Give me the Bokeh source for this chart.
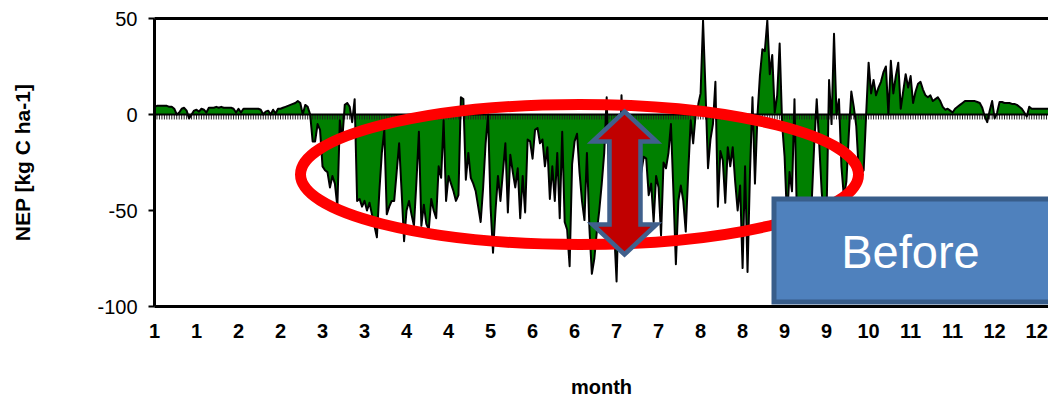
from bokeh.plotting import figure
from bokeh.models import Range1d, FixedTicker, LinearAxis, Label
from bokeh.embed import file_html
from bokeh.resources import INLINE

# ---------------- data (daily NEP, kg C ha-1) ----------------
nep = [
    4, 4.5, 4.5, 4.5, 4.5, 4.5, 4, 4, 3, 0,
    1, 3, 3.5, 2, -2, 0, 2, 2.5, 1.5, 3,
    2.5, 1, 3.5, 3.5, 3.5, 4, 3.5, 4, 3.5, 3.5,
    3.5, 3.5, 3, 1, 3, 1, 3, 3, 3, 3,
    3, 3, 3, 2.5, 0, 1.5, 2, 0, 2.5, 0.5,
    3, 3, 3.5, 4, 4.5, 5, 5.5, 6, 7, 6,
    0, 5, 4, 0, -14, -14, -5, -8, -27, -29,
    -30, -38, -32, -36, -48, -3, -13, 5, 6, 4,
    -4, 8, -45, -44, -48, -45, -50, -46, -52, -58,
    -64, -40, -20, -8, -52, -48, -45, -45, -30, -15,
    -40, -66, -50, -45, -52, -58, -35, -9, -58, -47,
    -57, -60, -44, -50, -54, -27, -33, -3, -45, -32,
    -36, -40, -45, -42, 9, 8, -34, -20, -33, -36,
    -40, -48, -56, -38, -15, 0, -48, -72, -50, -32,
    -45, -30, -15, -51, -21, -30, -38, -28, -54, -32,
    -51, -13, -14, -23, -8, -7, -15, -13, -27, -17,
    -44, -27, -45, -20, -54, -9, -56, -60, -79, -26,
    -14, -10, -30, -45, -55, -20, -59, -83, -75, -61,
    -50, -36, -20, 9, -38, -50, -60, -87, -40, 10,
    -30, -50, -45, -55, -40, -35, -38, -30, -22, -23,
    -42, -36, -56, -32, -38, -63, -25, -28, -20, -5,
    -40, -78, -45, -37, -45, -61, -30, -3, -15, 0,
    5, 11, 49, 12, -28, -13, -5, 17, -48, -19,
    -24, -46, -17, -27, -17, -35, -50, -37, -80, -27,
    -82, -30, 9, -36, -1, 20, 34, 33, 49, 21,
    31, 1, 10, 37, -5, -22, -55, -30, -40, 8,
    -55, -60, -45, -55, -50, -60, -45, -15, 8, -15,
    -40, -55, -50, 18, -5, 42, 0, 8, -27, -43,
    -35, -10, 12, 4, -6, -29, -31, -29, 0, 27,
    11, 18, 10, 14, 17, 22, 25, 0, 28, 11,
    20, 27, 3, 12, 21, 14, 20, 6, 12, 16,
    17, 13, 10, 9, 10, 7, 8, 9, 7, 4,
    2.5, 3, 2, 1, 3, 4, 5, 6, 7, 7,
    7, 7, 7, 6.5, 6, 3.5, -1, -4, 2, 7,
    -2, 1, 6.5, 6.5, 6, 6, 6, 5.5, 5.5, 5,
    4, 3, 1, -1, 4, 3, 3, 3, 3, 3,
    3, 3, 3, 3, 3,
]
days = list(range(len(nep)))

tick_days = [0, 17, 34, 51, 68, 85, 102, 119, 136, 153, 170,
             187, 204, 221, 238, 255, 272, 289, 306, 323, 340, 357]
tick_labels = ["1", "1", "2", "2", "3", "3", "4", "4", "5", "6", "6",
               "7", "7", "8", "8", "9", "9", "10", "11", "11", "12", "12"]
y_ticks = [-100, -50, 0, 50]
y_tick_labels = ["-100", "-50", "0", "50"]

y_title = "NEP [kg C ha-1]"
x_title = "month"
box_text = "Before"

# ---------------- geometry ----------------
W, H = 1048, 401
LEFT, TOP, BOTTOM = 154, 18, 306
X_END = 361.8
Y_MIN, Y_MAX = -100, 50
FONT = "Liberation Sans"


def dx(px):
    return (px - LEFT) / (W - LEFT) * X_END


def dy(py):
    return Y_MAX - (py - TOP) / (BOTTOM - TOP) * (Y_MAX - Y_MIN)


p = figure(width=W, height=H, output_backend="svg", toolbar_location=None,
           x_range=Range1d(0, X_END), y_range=Range1d(Y_MIN, Y_MAX),
           min_border_left=LEFT, min_border_right=0, min_border_top=TOP,
           min_border_bottom=H - BOTTOM)
p.background_fill_color = "white"
p.border_fill_color = "white"
p.outline_line_color = None
p.xgrid.visible = False
p.ygrid.visible = False

# y axis
ya = p.yaxis[0]
ya.ticker = FixedTicker(ticks=y_ticks)
ya.major_label_overrides = {t: l for t, l in zip(y_ticks, y_tick_labels)}
ya.axis_line_width = 3
ya.axis_line_color = "black"
ya.major_tick_in = 0
ya.major_tick_out = 6
ya.major_tick_line_width = 2
ya.minor_tick_line_color = None
ya.major_label_standoff = 11
ya.major_label_text_font = FONT
ya.major_label_text_font_size = "20px"
ya.major_label_text_color = "black"
ya.axis_label = y_title
ya.axis_label_standoff = 60
ya.axis_label_text_font = FONT
ya.axis_label_text_font_size = "21px"
ya.axis_label_text_font_style = "bold"
ya.axis_label_text_color = "black"

# x axis
xa = p.xaxis[0]
xa.ticker = FixedTicker(ticks=tick_days)
xa.major_label_overrides = {d: l for d, l in zip(tick_days, tick_labels)}
xa.axis_line_width = 3
xa.axis_line_color = "black"
xa.major_tick_in = 0
xa.major_tick_out = 0
xa.minor_tick_line_color = None
xa.major_label_standoff = 17
xa.major_label_text_font = FONT
xa.major_label_text_font_size = "20px"
xa.major_label_text_font_style = "bold"
xa.major_label_text_color = "black"
xa.axis_label = x_title
xa.axis_label_standoff = 35
xa.axis_label_text_font = FONT
xa.axis_label_text_font_size = "20px"
xa.axis_label_text_font_style = "bold"
xa.axis_label_text_color = "black"

# top border as an axis without ticks
top = LinearAxis(ticker=FixedTicker(ticks=[]), axis_line_width=3,
                 axis_line_color="black", major_tick_line_color=None,
                 minor_tick_line_color=None, major_label_text_font_size="0px")
p.add_layout(top, "above")

# data area and line
p.varea(x=days, y1=0, y2=nep, fill_color="#008000")
p.segment(x0=days, y0=[0] * len(days), x1=days, y1=[-2.6] * len(days),
          line_color="#222222", line_width=1)
p.line(x=[0, X_END + 5], y=[0, 0], line_color="black", line_width=2)
p.line(x=days, y=nep, line_color="black", line_width=2, line_join="round")

# red ellipse
p.ellipse(x=[dx(579)], y=[dy(174)], width=[dx(579 + 558) - dx(579)],
          height=[dy(174) - dy(174 + 140)], fill_color=None,
          line_color="#FF0000", line_width=11)

# double arrow
arrow_px = [(624, 111), (656, 141), (640, 141), (640, 224), (656, 224),
            (624, 254), (592, 224), (609, 224), (609, 141), (592, 141)]
p.patch(x=[dx(a) for a, b in arrow_px], y=[dy(b) for a, b in arrow_px],
        fill_color="#C00000", line_color="#40608C", line_width=4.5,
        line_join="miter")

# "Before" box
p.quad(left=[dx(773.5)], right=[dx(1080)], top=[dy(198.5)], bottom=[dy(301.5)],
       fill_color="#4F81BD", line_color="#385D8A", line_width=5,
       line_join="miter")
p.add_layout(Label(x=dx(910), y=dy(251), text=box_text, text_color="white",
                   text_font=FONT, text_font_size="47px", text_align="center",
                   text_baseline="middle"))

open("out.html", "w").write(file_html(p, INLINE))
